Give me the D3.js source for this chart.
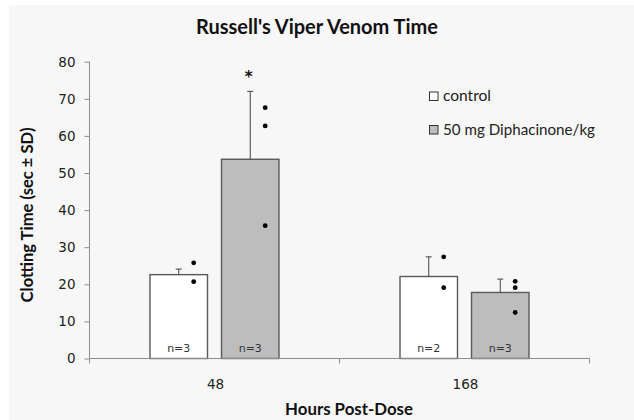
<!DOCTYPE html>
<html>
<head>
<meta charset="utf-8">
<script src="https://cdn.jsdelivr.net/npm/d3@7"></script>
<style>
  html, body { margin: 0; padding: 0; background: #ffffff; }
  svg { display: block; }
</style>
</head>
<body>
<svg id="chart" width="634" height="420"></svg>
<script>
// ---- data ----
const categories = ["48", "168"];
const seriesNames = ["control", "50 mg Diphacinone/kg"];
const controlMeans = [22.6, 22.1];
const diphMeans = [53.7, 17.8];
const controlSD = [1.5, 5.3];
const diphSD = [18.3, 3.6];
const controlN = ["n=3", "n=2"];
const diphN = ["n=3", "n=3"];
const controlPoints = [[25.8, 20.7], [27.4, 19.1]];
const diphPoints = [[67.6, 62.7, 35.8], [20.8, 19.1, 12.4]];
const yTicks = [0, 10, 20, 30, 40, 50, 60, 70, 80];
const significance = [["", "*"], ["", ""]]; // [category][series]
const chartTitle = "Russell's Viper Venom Time";
const xTitle = "Hours Post-Dose";
const yTitle = "Clotting Time (sec \u00B1 SD)";

// ---- layout ----
const svg = d3.select("#chart");
const plotLeft = 89.5, plotRight = 589.5, plotTop = 61.7, plotBottom = 358.5;
const fills = ["#ffffff", "#bdbdbd"];
const textFont = "Lato, 'Open Sans', sans-serif";
const numFont = "'DejaVu Sans', Verdana, sans-serif";

svg.append("rect").attr("x", 9).attr("y", 5).attr("width", 625).attr("height", 415).attr("fill", "#f7f7f7");

const x0 = d3.scaleBand().domain(categories).range([plotLeft, plotRight]).padding(0);
const bw0 = x0.bandwidth();
const x1 = d3.scaleBand().domain(seriesNames).range([bw0 * 0.242, bw0 * 0.758]).paddingInner(0.196);
const y = d3.scaleLinear().domain([0, 80]).range([plotBottom, plotTop]);

function fitText(sel, target) {
  const node = sel.node();
  const fs = parseFloat(sel.attr("font-size"));
  const w = node.getComputedTextLength();
  if (w > 0) sel.attr("font-size", (fs * target / w).toFixed(2));
  return sel;
}

// title
fitText(svg.append("text").attr("x", 317).attr("y", 34).attr("text-anchor", "middle")
  .attr("font-family", textFont).attr("font-weight", "bold").attr("font-size", 17)
  .attr("fill", "#111").text(chartTitle), 242);

// y axis
const yAxis = d3.axisLeft(y).tickValues(yTicks).tickSize(5).tickPadding(9).tickFormat(d3.format("d"));
const gy = svg.append("g").attr("transform", `translate(${plotLeft},0)`).call(yAxis);
gy.select(".domain").attr("stroke", "#8c8c8c").attr("d", `M0,${plotBottom}V${plotTop}`);
gy.selectAll(".tick line").attr("stroke", "#8c8c8c");
gy.selectAll(".tick text").attr("font-family", numFont).attr("font-size", 13.5).attr("fill", "#222");

// bars
const groups = seriesNames.map((s, si) => categories.map((c, ci) => ({
  cat: c, series: s, si,
  mean: si === 0 ? controlMeans[ci] : diphMeans[ci],
  sd: si === 0 ? controlSD[ci] : diphSD[ci],
  n: si === 0 ? controlN[ci] : diphN[ci],
  pts: si === 0 ? controlPoints[ci] : diphPoints[ci],
  sig: significance[ci][si]
}))).flat();

const g = svg.append("g");
g.selectAll("rect.bar").data(groups).join("rect").attr("class", "bar")
  .attr("x", d => x0(d.cat) + x1(d.series))
  .attr("y", d => y(d.mean))
  .attr("width", x1.bandwidth())
  .attr("height", d => y(0) - y(d.mean))
  .attr("fill", d => fills[d.si])
  .attr("stroke", "#5a5a5a").attr("stroke-width", 1.4);

// x axis
const xAxisLine = svg.append("g");
xAxisLine.append("line").attr("x1", plotLeft).attr("x2", plotRight).attr("y1", plotBottom).attr("y2", plotBottom)
  .attr("stroke", "#8c8c8c").attr("stroke-width", 1.2);
const xTickPos = [plotLeft].concat(categories.map(c => x0(c) + bw0));
xAxisLine.selectAll("line.tk").data(xTickPos).join("line").attr("class", "tk")
  .attr("x1", d => d).attr("x2", d => d).attr("y1", plotBottom).attr("y2", plotBottom + 5)
  .attr("stroke", "#8c8c8c");
svg.selectAll("text.xl").data(categories).join("text").attr("class", "xl")
  .attr("x", d => x0(d) + bw0 / 2 + 1).attr("y", 389).attr("text-anchor", "middle")
  .attr("font-family", numFont).attr("font-size", 13.5).attr("fill", "#222").text(d => d);

// error bars (plus only)
const cx = d => x0(d.cat) + x1(d.series) + x1.bandwidth() / 2;
const eb = g.selectAll("g.eb").data(groups).join("g").attr("class", "eb");
eb.append("line").attr("x1", cx).attr("x2", cx).attr("y1", d => y(d.mean)).attr("y2", d => y(d.mean + d.sd))
  .attr("stroke", "#444").attr("stroke-width", 1);
eb.append("line").attr("x1", d => cx(d) - 3).attr("x2", d => cx(d) + 3)
  .attr("y1", d => y(d.mean + d.sd)).attr("y2", d => y(d.mean + d.sd))
  .attr("stroke", "#444").attr("stroke-width", 1);

// individual points
const pts = groups.flatMap(d => d.pts.map(v => ({ d, v })));
g.selectAll("circle.pt").data(pts).join("circle").attr("class", "pt")
  .attr("cx", p => cx(p.d) + x1.bandwidth() * 0.26)
  .attr("cy", p => y(p.v)).attr("r", 2.4).attr("fill", "#000");

// n labels
g.selectAll("text.n").data(groups).join("text").attr("class", "n")
  .attr("x", cx).attr("y", 352).attr("text-anchor", "middle")
  .attr("font-family", numFont).attr("font-size", 11).attr("fill", "#333").text(d => d.n);

// significance
g.selectAll("text.sig").data(groups.filter(d => d.sig)).join("text").attr("class", "sig")
  .attr("x", d => cx(d) - 1.5).attr("y", d => y(d.mean + d.sd) - 9).attr("text-anchor", "middle")
  .attr("font-family", numFont).attr("font-size", 15).attr("font-weight", "bold").attr("fill", "#111").text(d => d.sig);

// legend
const leg = svg.append("g");
const legY = [96.5, 130];
seriesNames.forEach((s, i) => {
  leg.append("rect").attr("x", 429.5).attr("y", legY[i] - 4.5).attr("width", 8.5).attr("height", 8.5)
    .attr("fill", fills[i]).attr("stroke", "#333").attr("stroke-width", 1);
  fitText(leg.append("text").attr("x", 443).attr("y", legY[i] + 4.5)
    .attr("font-family", textFont).attr("font-size", 14).attr("fill", "#222").text(s), i === 0 ? 48 : 152);
});

// axis titles
fitText(svg.append("text").attr("x", 349).attr("y", 415).attr("text-anchor", "middle")
  .attr("font-family", textFont).attr("font-weight", "bold").attr("font-size", 15)
  .attr("fill", "#111").text(xTitle), 128);
fitText(svg.append("text").attr("transform", "translate(33,215) rotate(-90)").attr("text-anchor", "middle")
  .attr("font-family", textFont).attr("font-weight", "bold").attr("font-size", 15)
  .attr("fill", "#111").text(yTitle), 175);
</script>
</body>
</html>
